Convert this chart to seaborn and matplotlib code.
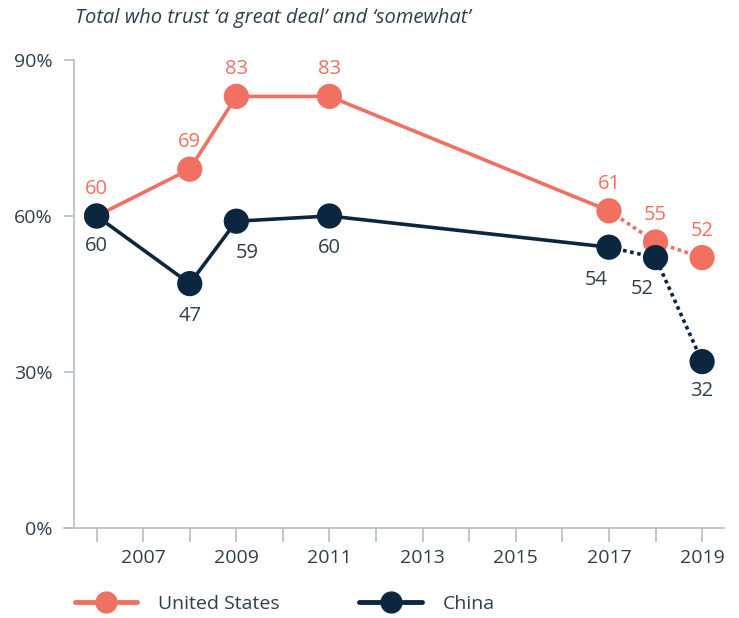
import matplotlib
matplotlib.use("Agg")
import matplotlib.pyplot as plt
from matplotlib.lines import Line2D
import seaborn as sns
import pandas as pd

years = [2006, 2008, 2009, 2011, 2017, 2018, 2019]
us = [60, 69, 83, 83, 61, 55, 52]
china = [60, 47, 59, 60, 54, 52, 32]
series_names = ["United States", "China"]
x_tick_years = list(range(2006, 2020))
x_label_years = [2007, 2009, 2011, 2013, 2015, 2017, 2019]
y_ticks = [0, 30, 60, 90]
title = "Total who trust \u2018a great deal\u2019 and \u2018somewhat\u2019"

sns.set_theme(style="white")
plt.rcParams["font.family"] = ["Open Sans", "DejaVu Sans"]

US_C = "#F07062"
CN_C = "#0C2640"
TXT = "#2E3F4A"
AX_C = "#B3BDC4"

rows = []
for i, y in enumerate(years):
    rows.append({"year": y, "value": us[i], "country": series_names[0], "idx": i})
    rows.append({"year": y, "value": china[i], "country": series_names[1], "idx": i})
df = pd.DataFrame(rows)
solid = df[df["idx"] <= 4]
dotted = df[df["idx"] >= 4]
palette = {series_names[0]: US_C, series_names[1]: CN_C}

fig = plt.figure(figsize=(7.39, 6.18), dpi=100)
ax = fig.add_axes([64 / 739, 1 - 528 / 618, (724 - 64) / 739, (528 - 60) / 618])

for name in series_names:
    sub = solid[solid["country"] == name]
    sns.lineplot(data=sub, x="year", y="value", ax=ax, color=palette[name],
                 lw=2.6, legend=False, zorder=2)
    sub = dotted[dotted["country"] == name]
    sns.lineplot(data=sub, x="year", y="value", ax=ax, color=palette[name],
                 lw=2.6, legend=False, zorder=2, dashes=False)
for ln in ax.lines[1::2]:
    ln.set_linestyle((0, (1.0, 1.0)))
    ln.set_dash_capstyle("butt")

sns.scatterplot(data=df, x="year", y="value", hue="country", palette=palette,
                s=330, linewidth=0, ax=ax, legend=False, zorder=3)

us_off = [(0, 27)] * 7
cn_off = [(0, -30), (0, -32), (11, -32), (0, -32), (-13, -33), (-13, -31), (0, -29)]
for i, y in enumerate(years):
    ax.annotate(str(us[i]), (y, us[i]), xytext=us_off[i], textcoords="offset pixels",
                ha="center", va="center", color=US_C, fontsize=14.5, zorder=4)
    ax.annotate(str(china[i]), (y, china[i]), xytext=cn_off[i], textcoords="offset pixels",
                ha="center", va="center", color=TXT, fontsize=14.5, zorder=4)

ax.set_xlim(2005.30, 2019.47)
ax.set_ylim(0, 90)
ax.spines["left"].set_position(("data", 2005.51))
for s in ["top", "right"]:
    ax.spines[s].set_visible(False)
for s in ["left", "bottom"]:
    ax.spines[s].set_color(AX_C)
    ax.spines[s].set_linewidth(1.2)

ax.set_xticks(x_tick_years)
ax.set_xticklabels([str(y) if y in x_label_years else "" for y in x_tick_years])
ax.set_yticks(y_ticks)
ax.set_yticklabels([f"{v}%" for v in y_ticks])
ax.tick_params(axis="x", length=10, width=1.2, color=AX_C, pad=5,
               labelsize=14, labelcolor=TXT, bottom=True, direction="out")
ax.tick_params(axis="y", length=7.5, width=1.2, color=AX_C, pad=8,
               labelsize=14, labelcolor=TXT, left=True, direction="out")
ax.set_xlabel("")
ax.set_ylabel("")
ax.grid(False)

fig.text(75 / 739, 1 - 18 / 618, title, ha="left", va="center",
         fontsize=14.5, style="italic", color=TXT)

handles = [Line2D([], [], color=US_C, lw=3.5, marker="o", markersize=15),
           Line2D([], [], color=CN_C, lw=3.5, marker="o", markersize=15)]
fig.legend(handles, series_names, loc="center left", bbox_to_anchor=(57 / 739, 1 - 604 / 618),
           ncol=2, frameon=False, fontsize=14, handlelength=3.2, handletextpad=1.1,
           columnspacing=4.1, labelcolor=TXT)

fig.savefig("out.png", dpi=100)
